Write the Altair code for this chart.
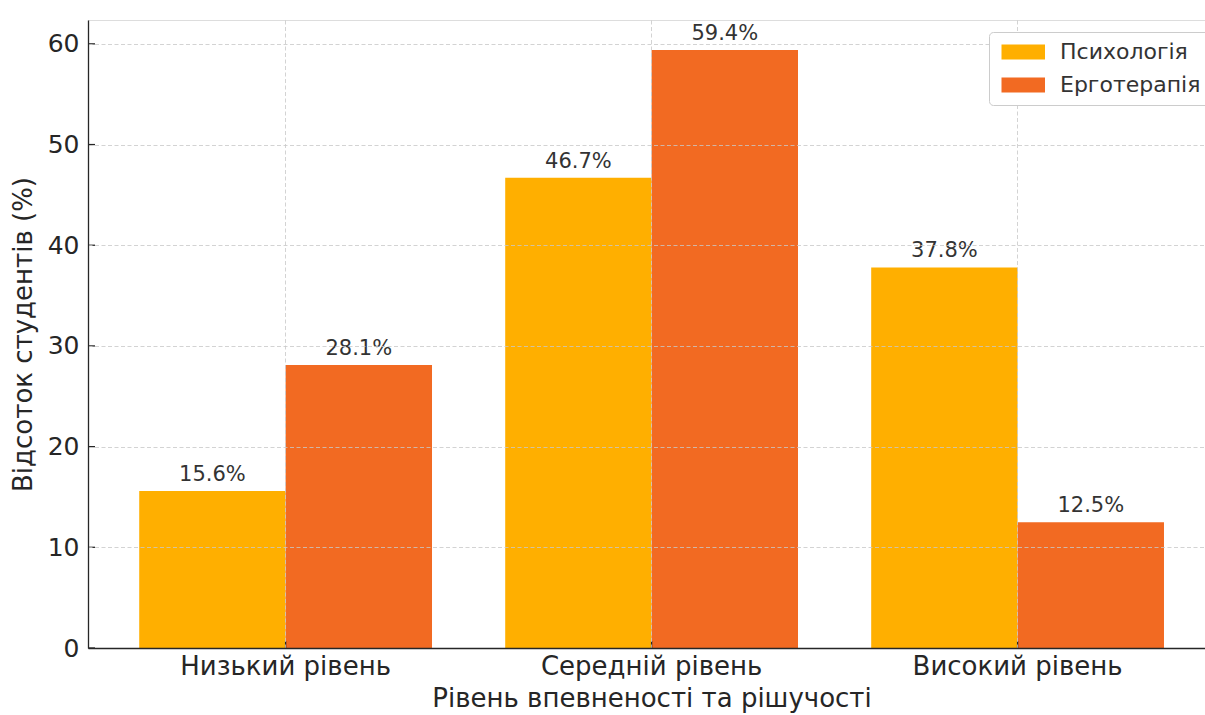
import altair as alt
import pandas as pd

# Confidence / decisiveness levels and student shares per programme (%)
levels = ["Низький рівень", "Середній рівень", "Високий рівень"]
groups = ["Психологія", "Ерготерапія"]
psychology = [15.6, 46.7, 37.8]
ergotherapy = [28.1, 59.4, 12.5]
y_ticks = [0, 10, 20, 30, 40, 50, 60]
colors = ["#FFAF00", "#F26A22"]

rows = []
for i, lvl in enumerate(levels):
    rows.append({"level": lvl, "group": groups[0], "value": psychology[i]})
    rows.append({"level": lvl, "group": groups[1], "value": ergotherapy[i]})
df = pd.DataFrame(rows)
ticks_df = pd.DataFrame({"v": y_ticks})
levels_df = pd.DataFrame({"level": levels})

W, H = 1117, 628
FONT = "DejaVu Sans"
TXT = "#262626"

x_scale = alt.Scale(domain=levels, paddingInner=0.2, paddingOuter=0.126,
                    align=0.5553, round=False)
y_scale = alt.Scale(domain=[0, 62.37], nice=False, zero=True)
off_scale = alt.Scale(domain=groups, paddingInner=0, paddingOuter=0)

x_enc = alt.X(
    "level:N", scale=x_scale, sort=levels,
    axis=alt.Axis(
        title="Рівень впевненості та рішучості", labelAngle=0,
        labelFontSize=26, labelColor=TXT, labelPadding=5, labelFont=FONT,
        labelLimit=500,
        titleFontSize=26, titleColor=TXT, titleFont=FONT, titleFontWeight="normal",
        titlePadding=6, titleX=563.5,
        ticks=False, bandPosition=0.5,
        grid=True, gridColor="#c8c8c8", gridOpacity=0.8, gridDash=[4, 2.5],
        gridWidth=1, domainColor=TXT, domainWidth=1.3, zindex=1,
    ),
)
y_enc = alt.Y(
    "value:Q", scale=y_scale,
    axis=alt.Axis(
        title="Відсоток студентів (%)", values=y_ticks,
        labelFontSize=25, labelColor=TXT, labelPadding=9, labelFont=FONT,
        titleFontSize=26, titleColor=TXT, titleFont=FONT, titleFontWeight="normal",
        titlePadding=11,
        ticks=False, grid=True, gridColor="#c8c8c8", gridOpacity=0.8,
        gridDash=[4, 2.5], gridWidth=1, domainColor=TXT, domainWidth=1.3,
        zindex=1,
    ),
)

base = alt.Chart(df)

bars = base.mark_bar().encode(
    x=x_enc,
    xOffset=alt.XOffset("group:N", scale=off_scale, sort=groups),
    y=y_enc,
    color=alt.Color(
        "group:N", sort=groups,
        scale=alt.Scale(domain=groups, range=colors),
        legend=alt.Legend(
            title=None, orient="none", legendX=901, legendY=12,
            symbolType="M-1,-1H4.8V1H-1Z", symbolSize=225,
            symbolStrokeWidth=0, symbolOpacity=1,
            labelFontSize=22, labelColor="#333333", labelFont=FONT,
            labelOffset=40, rowPadding=11, padding=9,
            fillColor="white", strokeColor="#cccccc", cornerRadius=4,
            zindex=2,
        ),
    ),
)

labels = base.transform_calculate(
    label="format(datum.value, '.1f') + '%'"
).mark_text(
    baseline="bottom", dy=-6, fontSize=21, font=FONT, color="#333333"
).encode(
    x=alt.X("level:N", scale=x_scale, sort=levels),
    xOffset=alt.XOffset("group:N", scale=off_scale, sort=groups),
    y=alt.Y("value:Q", scale=y_scale),
    text="label:N",
)

# inward tick marks on both axes
y_tick_marks = alt.Chart(ticks_df).mark_rule(color=TXT, strokeWidth=1.3).encode(
    y=alt.Y("v:Q", scale=y_scale),
    x=alt.value(0), x2=alt.value(7),
)
x_tick_marks = alt.Chart(levels_df).mark_rule(color=TXT, strokeWidth=1.3).encode(
    x=alt.X("level:N", scale=x_scale, sort=levels),
    y=alt.value(H), y2=alt.value(H - 7),
)

chart = alt.layer(bars, labels, y_tick_marks, x_tick_marks).properties(
    width=W, height=H,
    padding={"left": 88, "top": 20, "right": 0, "bottom": 67},
    autosize=alt.AutoSizeParams(type="none"),
).configure_view(stroke=None).configure(background="white")

chart.save("out.html", embed_options={"renderer": "svg", "actions": False})
